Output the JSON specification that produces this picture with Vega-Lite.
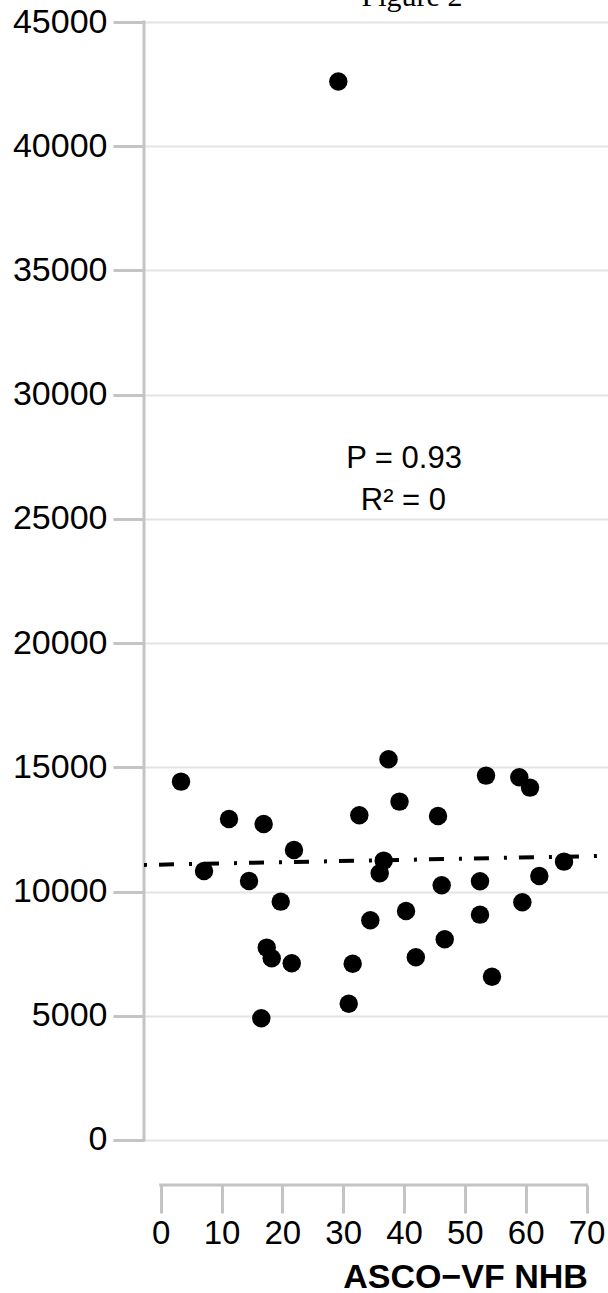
{
  "$schema": "https://vega.github.io/schema/vega-lite/v6.json",
  "width": 464,
  "height": 1163,
  "autosize": {"type": "none"},
  "padding": {"left": 144, "top": 22, "right": 0, "bottom": 108},
  "background": "white",
  "title": {"text": "Figure 2", "font": "Liberation Serif", "fontSize": 30, "fontWeight": "normal", "color": "black", "anchor": "middle", "frame": "group", "baseline": "alphabetic", "dx": 36, "dy": 31, "offset": 0},
  "config": {"view": {"stroke": null}},
  "datasets": {
    "points": [
      {"asco_vf_nhb": 3.34, "value": 14424},
      {"asco_vf_nhb": 7.12, "value": 10829},
      {"asco_vf_nhb": 11.23, "value": 12923},
      {"asco_vf_nhb": 14.52, "value": 10427},
      {"asco_vf_nhb": 16.93, "value": 12721},
      {"asco_vf_nhb": 19.73, "value": 9593},
      {"asco_vf_nhb": 21.91, "value": 11675},
      {"asco_vf_nhb": 17.43, "value": 7742},
      {"asco_vf_nhb": 18.25, "value": 7315},
      {"asco_vf_nhb": 21.54, "value": 7114},
      {"asco_vf_nhb": 16.54, "value": 4899},
      {"asco_vf_nhb": 29.2, "value": 42605},
      {"asco_vf_nhb": 30.91, "value": 5487},
      {"asco_vf_nhb": 31.56, "value": 7097},
      {"asco_vf_nhb": 32.65, "value": 13072},
      {"asco_vf_nhb": 34.46, "value": 8845},
      {"asco_vf_nhb": 36.0, "value": 10737},
      {"asco_vf_nhb": 36.66, "value": 11244},
      {"asco_vf_nhb": 37.45, "value": 15326},
      {"asco_vf_nhb": 39.26, "value": 13619},
      {"asco_vf_nhb": 40.33, "value": 9219},
      {"asco_vf_nhb": 41.94, "value": 7355},
      {"asco_vf_nhb": 45.59, "value": 13043},
      {"asco_vf_nhb": 46.19, "value": 10254},
      {"asco_vf_nhb": 46.69, "value": 8080},
      {"asco_vf_nhb": 52.49, "value": 10415},
      {"asco_vf_nhb": 52.49, "value": 9070},
      {"asco_vf_nhb": 53.48, "value": 14666},
      {"asco_vf_nhb": 54.46, "value": 6574},
      {"asco_vf_nhb": 58.95, "value": 14601},
      {"asco_vf_nhb": 59.45, "value": 9569},
      {"asco_vf_nhb": 60.71, "value": 14183},
      {"asco_vf_nhb": 62.24, "value": 10628},
      {"asco_vf_nhb": 66.3, "value": 11204}
    ],
    "fit": [
      {"asco_vf_nhb": -2.745, "value": 11071},
      {"asco_vf_nhb": 73.53, "value": 11438}
    ]
  },
  "layer": [
    {
      "data": {"name": "points"},
      "mark": {"type": "circle", "size": 340, "color": "black", "opacity": 1},
      "encoding": {
        "x": {
          "field": "asco_vf_nhb", "type": "quantitative",
          "scale": {"domain": [-2.745, 73.53], "nice": false, "zero": false},
          "axis": {
            "title": "ASCO−VF NHB",
            "values": [0, 10, 20, 30, 40, 50, 60, 70],
            "domain": false, "grid": false,
            "tickSize": 28, "tickWidth": 3, "tickColor": "#c4c4c4",
            "labelFont": "Liberation Sans", "labelFontSize": 33, "labelColor": "black", "labelPadding": 4,
            "labelFlush": false, "labelOverlap": false,
            "titleFont": "Liberation Sans", "titleFontSize": 34, "titleFontWeight": "bold", "titleColor": "black",
            "titleX": 321, "titleY": 102, "titleAlign": "center", "titleBaseline": "alphabetic"
          }
        },
        "y": {
          "field": "value", "type": "quantitative",
          "scale": {"domain": [-1812, 45000], "nice": false, "zero": false},
          "axis": {
            "title": null,
            "values": [0, 5000, 10000, 15000, 20000, 25000, 30000, 35000, 40000, 45000],
            "format": "d",
            "domain": false, "grid": true, "gridColor": "#e4e4e4", "gridWidth": 2,
            "tickSize": 31, "tickWidth": 3, "tickColor": "#c4c4c4",
            "labelFont": "Liberation Sans", "labelFontSize": 34, "labelColor": "black", "labelPadding": 6,
            "labelFlush": false, "labelOverlap": false
          }
        }
      }
    },
    {
      "data": {"values": [{}]},
      "mark": {"type": "rule", "color": "#c4c4c4", "strokeWidth": 3, "strokeCap": "square", "clip": false},
      "encoding": {
        "x": {"value": 0},
        "y": {"datum": 0, "type": "quantitative"},
        "y2": {"datum": 45000}
      }
    },
    {
      "data": {"values": [{}]},
      "mark": {"type": "rule", "color": "#c4c4c4", "strokeWidth": 3, "strokeCap": "square", "clip": false},
      "encoding": {
        "y": {"value": "height"},
        "x": {"datum": 0, "type": "quantitative"},
        "x2": {"datum": 70}
      }
    },
    {
      "data": {"name": "fit"},
      "mark": {"type": "line", "color": "black", "strokeWidth": 4, "strokeDash": [3, 12, 15, 15], "clip": true},
      "encoding": {
        "x": {"field": "asco_vf_nhb", "type": "quantitative"},
        "y": {"field": "value", "type": "quantitative"}
      }
    },
    {
      "data": {"values": [{}]},
      "mark": {"type": "text", "text": "P = 0.93", "font": "Liberation Sans", "fontSize": 31, "color": "black", "align": "center", "baseline": "alphabetic"},
      "encoding": {
        "x": {"datum": 40, "type": "quantitative"},
        "y": {"datum": 27053, "type": "quantitative"}
      }
    },
    {
      "data": {"values": [{}]},
      "mark": {"type": "text", "text": "R² = 0", "font": "Liberation Sans", "fontSize": 31, "color": "black", "align": "center", "baseline": "alphabetic"},
      "encoding": {
        "x": {"datum": 39.9, "type": "quantitative"},
        "y": {"datum": 25362, "type": "quantitative"}
      }
    }
  ]
}
